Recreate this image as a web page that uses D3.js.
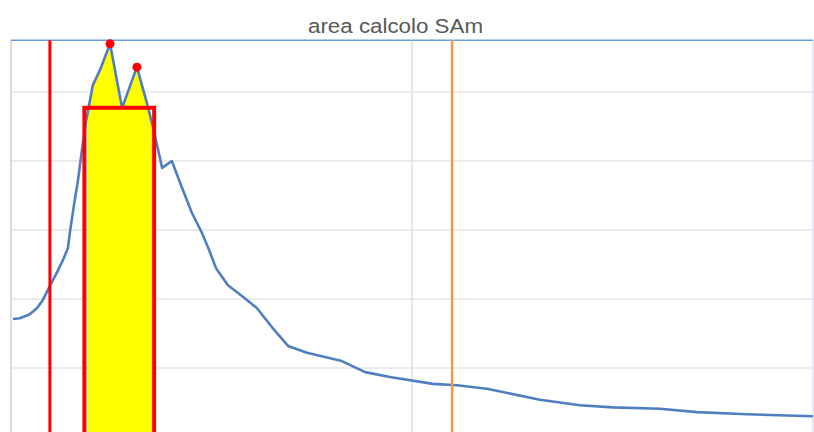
<!DOCTYPE html>
<html>
<head>
<meta charset="utf-8">
<script src="https://cdn.jsdelivr.net/npm/d3@7"></script>
<style>
  html, body { margin: 0; padding: 0; background: #fff; }
  svg { display: block; }
</style>
</head>
<body>
<svg id="chart" width="814" height="432"></svg>
<script>
// ---- data (period T [s], spectral value) ----
const periods = [0.005, 0.022, 0.047, 0.065, 0.080, 0.097, 0.115, 0.130, 0.142, 0.147,
  0.157, 0.167, 0.177, 0.187, 0.197, 0.204, 0.222, 0.247, 0.277, 0.314,
  0.339, 0.354, 0.377, 0.401, 0.426, 0.451, 0.476, 0.494, 0.511, 0.541,
  0.579, 0.613, 0.651, 0.691, 0.738, 0.825, 0.883, 0.945, 1.052, 1.112,
  1.187, 1.319, 1.419, 1.501, 1.618, 1.711, 1.835, 2.000];
const spectrum = [0.171, 0.172, 0.178, 0.187, 0.199, 0.219, 0.239, 0.257, 0.274, 0.297,
  0.336, 0.372, 0.416, 0.457, 0.488, 0.510, 0.532, 0.570, 0.477, 0.536,
  0.484, 0.449, 0.390, 0.400, 0.362, 0.325, 0.296, 0.271, 0.245, 0.220,
  0.203, 0.187, 0.159, 0.132, 0.122, 0.110, 0.094, 0.087, 0.077, 0.075,
  0.070, 0.054, 0.046, 0.043, 0.041, 0.036, 0.033, 0.030];
const peakT = [0.247, 0.314];
const peakV = [0.570, 0.536];
const areaRange = [0.192, 0.355];      // yellow integration area
const rectRange = [0.183, 0.357];      // red rectangle (T range)
const rectTop = 0.477;                 // red rectangle height
const redLineT = 0.097;
const orangeLineT = 1.10;
const xTicks = [0, 1, 2];
const yTicks = [0.1, 0.2, 0.3, 0.4, 0.5];
const title = "area calcolo SAm";

// ---- scales ----
const x = d3.scaleLinear().domain([0, 2]).range([11, 813]);
const y = d3.scaleLinear().domain([0, 0.575]).range([437, 40.25]);
const svg = d3.select("#chart");
const data = periods.map((t, i) => ({t, v: spectrum[i]}));

// gridlines
svg.append("g").selectAll("line").data(yTicks).join("line")
  .attr("x1", x(0)).attr("x2", x(2))
  .attr("y1", d => y(d)).attr("y2", d => y(d))
  .attr("stroke", "#d9d9d9").attr("stroke-width", 1);
svg.append("g").selectAll("line").data(xTicks.slice(1, -1)).join("line")
  .attr("x1", d => x(d)).attr("x2", d => x(d))
  .attr("y1", y(0.575)).attr("y2", 440)
  .attr("stroke", "#d9d9d9").attr("stroke-width", 1.3);
// left axis line
svg.append("line").attr("x1", x(0)).attr("x2", x(0)).attr("y1", y(0.575)).attr("y2", 440)
  .attr("stroke", "#d0d0d0").attr("stroke-width", 1.5);
// right border
svg.append("line").attr("x1", x(2)).attr("x2", x(2)).attr("y1", y(0.575)).attr("y2", 440)
  .attr("stroke", "#c5d3ea").attr("stroke-width", 1);
// top line
svg.append("line").attr("x1", x(0)).attr("x2", x(2)).attr("y1", y(0.575)).attr("y2", y(0.575))
  .attr("stroke", "#6a9fe0").attr("stroke-width", 1.6);

// yellow area (clipped to integration range)
svg.append("clipPath").attr("id", "areaClip").append("rect")
  .attr("x", x(areaRange[0])).attr("width", x(areaRange[1]) - x(areaRange[0]))
  .attr("y", 0).attr("height", 440);
svg.append("path").datum(data)
  .attr("clip-path", "url(#areaClip)")
  .attr("fill", "#ffff00")
  .attr("d", d3.area().x(d => x(d.t)).y0(y(0)).y1(d => y(d.v)));

// spectrum line
svg.append("path").datum(data)
  .attr("fill", "none").attr("stroke", "#4f7fc0").attr("stroke-width", 2.6)
  .attr("stroke-linejoin", "round")
  .attr("d", d3.line().x(d => x(d.t)).y(d => y(d.v)));

// vertical markers
svg.append("line").attr("x1", x(redLineT)).attr("x2", x(redLineT))
  .attr("y1", y(0.575)).attr("y2", 440).attr("stroke", "#ff0000").attr("stroke-width", 3);
svg.append("line").attr("x1", x(orangeLineT)).attr("x2", x(orangeLineT))
  .attr("y1", y(0.575)).attr("y2", 440).attr("stroke", "#f79646").attr("stroke-width", 2.5);

// red rectangle
svg.append("path")
  .attr("fill", "none").attr("stroke", "#ff0000").attr("stroke-width", 4)
  .attr("stroke-linejoin", "miter")
  .attr("d", d3.line()([[x(rectRange[0]), 445], [x(rectRange[0]), y(rectTop)],
                        [x(rectRange[1]), y(rectTop)], [x(rectRange[1]), 445]]));

// peak markers
svg.append("g").selectAll("circle").data(peakT).join("circle")
  .attr("cx", d => x(d)).attr("cy", (d, i) => y(peakV[i]))
  .attr("r", 4.5).attr("fill", "#ff0000");

// title
svg.append("text").attr("x", 395.5).attr("y", 33)
  .attr("text-anchor", "middle")
  .attr("font-family", "Liberation Sans, Arial, sans-serif")
  .attr("font-size", 20).attr("fill", "#595959")
  .attr("textLength", 175).attr("lengthAdjust", "spacingAndGlyphs")
  .text(title);
</script>
</body>
</html>
